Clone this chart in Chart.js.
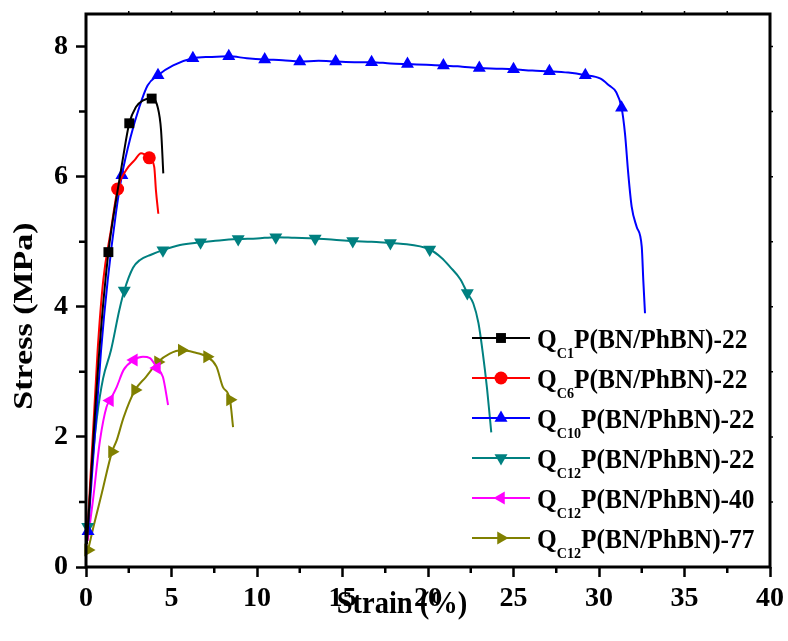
<!DOCTYPE html>
<html>
<head>
<meta charset="utf-8">
<script src="https://cdn.jsdelivr.net/npm/chart.js@4.4.0/dist/chart.umd.min.js"></script>
<style>
  html, body { margin: 0; padding: 0; background: #fff; }
  #wrap { width: 788px; height: 641px; position: relative; }
</style>
</head>
<body>
<div id="wrap"><canvas id="chart"></canvas></div>
<script>
// ── Data ──────────────────────────────────────────────────────
const strainQC1 = [0.05, 0.78, 1.31, 1.85, 2.14, 2.53, 2.92, 3.31, 3.84, 4.19, 4.39, 4.52];
const stressQC1 = [0.35, 3.33, 4.84, 5.79, 6.25, 6.82, 7.07, 7.17, 7.2, 7.07, 6.71, 6.05];
const marksQC1 = [2, 5, 8];

const strainQC6 = [0.05, 0.68, 1.01, 1.46, 1.85, 2.34, 2.83, 3.22, 3.7, 3.99, 4.09, 4.23];
const stressQC6 = [0.35, 3.33, 4.41, 5.18, 5.81, 6.1, 6.25, 6.36, 6.29, 6.15, 5.79, 5.43];
const marksQC6 = [4, 8];

const strainQC10 = [0.12, 0.88, 1.27, 1.75, 2.1, 2.6, 3.12, 3.6, 4.21, 5.1, 6.25, 7.3, 8.35, 9.4, 10.45,
  11.5, 12.5, 13.6, 14.6, 15.7, 16.7, 17.8, 18.8, 19.9, 20.9, 22.0, 23.0, 24.0, 25.0, 26.1, 27.1,
  28.2, 29.2, 30.06, 30.6, 31.0, 31.32, 31.52, 31.71, 31.91, 32.2, 32.5, 32.59, 32.69];
const stressQC10 = [0.55, 3.33, 4.41, 5.44, 6.02, 6.6, 7.07, 7.4, 7.56, 7.71, 7.82, 7.84, 7.85, 7.82, 7.8,
  7.79, 7.77, 7.78, 7.77, 7.76, 7.76, 7.74, 7.73, 7.72, 7.71, 7.69, 7.67, 7.66, 7.65, 7.63, 7.62,
  7.6, 7.56, 7.51, 7.4, 7.3, 7.06, 6.66, 6.05, 5.54, 5.23, 4.92, 4.41, 3.9];
const marksQC10 = [0, 4, 8, 10, 12, 14, 16, 18, 20, 22, 24, 26, 28, 30, 32, 36];

const strainQC12a = [0.1, 0.35, 0.64, 1.0, 1.46, 1.95, 2.24, 2.75, 3.16, 3.8, 4.5, 5.5, 6.7, 7.8, 8.9,
  10.0, 11.1, 12.2, 13.4, 14.5, 15.6, 16.7, 17.8, 18.4, 20.1, 20.8, 21.3, 21.9, 22.3, 22.65, 22.95, 23.2, 23.45, 23.7];
const stressQC12a = [0.62, 1.54, 2.3, 2.9, 3.33, 3.95, 4.25, 4.6, 4.72, 4.8, 4.87, 4.95, 4.99, 5.02, 5.04,
  5.05, 5.07, 5.06, 5.05, 5.03, 5.01, 5.0, 4.98, 4.97, 4.88, 4.75, 4.61, 4.42, 4.21, 4.05, 3.75, 3.3, 2.75, 2.07];
const marksQC12a = [0, 6, 10, 12, 14, 16, 18, 20, 22, 24, 28];

const strainQC12b = [0.1, 0.41, 0.82, 1.2, 1.4, 1.8, 2.2, 2.8, 3.33, 3.74, 4.15, 4.5, 4.8];
const stressQC12b = [0.4, 1.03, 1.95, 2.46, 2.56, 2.77, 3.03, 3.18, 3.23, 3.21, 3.06, 2.92, 2.49];
const marksQC12b = [4, 7, 10];

const strainQC12c = [0.12, 0.43, 0.93, 1.52, 1.8, 2.2, 2.87, 3.5, 4.21, 4.9, 5.6, 6.3, 7.08, 7.63, 8.0, 8.42, 8.6];
const stressQC12c = [0.26, 0.61, 1.14, 1.77, 1.95, 2.3, 2.72, 2.92, 3.15, 3.28, 3.33, 3.3, 3.23, 3.08, 2.77, 2.57, 2.15];
const marksQC12c = [0, 3, 6, 8, 10, 12, 15];

const labelSubs = ['C1', 'C6', 'C10', 'C12', 'C12', 'C12'];
const labelRests = ['P(BN/PhBN)-22', 'P(BN/PhBN)-22', 'P(BN/PhBN)-22', 'P(BN/PhBN)-22', 'P(BN/PhBN)-40', 'P(BN/PhBN)-77'];

const xTicks = [0, 5, 10, 15, 20, 25, 30, 35, 40];
const yTicks = [0, 2, 4, 6, 8];

// ── Styles ─────────────────────────────────────────────────────
const SERIF = "'Liberation Serif', 'Times New Roman', serif";
const STYLES = [
  { color: '#000000', style: 'rect', rot: 0, r: 7 },
  { color: '#ff0000', style: 'circle', rot: 0, r: 6.5 },
  { color: '#0000ff', style: 'triangle', rot: 0, r: 7.5 },
  { color: '#008080', style: 'triangle', rot: 180, r: 7.5 },
  { color: '#ff00ff', style: 'triangle', rot: 270, r: 7.5 },
  { color: '#808000', style: 'triangle', rot: 90, r: 7.5 },
];

const SERIES = [
  [strainQC1, stressQC1, marksQC1],
  [strainQC6, stressQC6, marksQC6],
  [strainQC10, stressQC10, marksQC10],
  [strainQC12a, stressQC12a, marksQC12a],
  [strainQC12b, stressQC12b, marksQC12b],
  [strainQC12c, stressQC12c, marksQC12c],
];

const datasets = SERIES.map(([xs, ys, marks], i) => ({
  label: 'Q' + labelSubs[i] + labelRests[i],
  data: xs.map((x, j) => ({ x: x, y: ys[j] })),
  showLine: true,
  borderColor: STYLES[i].color,
  backgroundColor: STYLES[i].color,
  borderWidth: 2,
  cubicInterpolationMode: 'monotone',
  pointStyle: STYLES[i].style,
  rotation: STYLES[i].rot,
  pointBorderWidth: 0,
  pointRadius: (ctx) => (marks.includes(ctx.dataIndex) ? STYLES[i].r : 0),
  pointHoverRadius: 0,
  clip: false,
}));

// ── Helpers ────────────────────────────────────────────────────
function drawText(ctx, text, x, y, size, sx) {
  ctx.save();
  ctx.translate(x, y);
  ctx.scale(sx, 1);
  ctx.font = 'bold ' + size + 'px ' + SERIF;
  ctx.textBaseline = 'alphabetic';
  ctx.fillText(text, 0, 0);
  const w = ctx.measureText(text).width * sx;
  ctx.restore();
  return w;
}

const framePlugin = {
  id: 'frame',
  afterDraw(chart) {
    const ctx = chart.ctx;
    const a = chart.chartArea;
    const xs = chart.scales.x;
    const ys = chart.scales.y;
    ctx.save();
    ctx.strokeStyle = '#000';
    ctx.lineWidth = 3;
    ctx.strokeRect(a.left, a.top, a.right - a.left, a.bottom - a.top);

    // minor ticks
    ctx.lineWidth = 2.5;
    ctx.beginPath();
    for (let v = 2.5; v < 40; v += 5) {
      const px = xs.getPixelForValue(v);
      ctx.moveTo(px, a.bottom);
      ctx.lineTo(px, a.bottom + 6);
    }
    for (let v = 1; v < 8.5; v += 2) {
      const py = ys.getPixelForValue(v);
      ctx.moveTo(a.left, py);
      ctx.lineTo(a.left - 7, py);
    }
    ctx.stroke();
    ctx.lineWidth = 1.5;
    ctx.beginPath();
    for (let v = 2.5; v < 40; v += 2.5) {
      const px = xs.getPixelForValue(v);
      ctx.moveTo(px, a.top);
      ctx.lineTo(px, a.top - 3);
    }
    for (let v = 1; v < 8.5; v += 1) {
      const py = ys.getPixelForValue(v);
      ctx.moveTo(a.right, py);
      ctx.lineTo(a.right + 3, py);
    }
    ctx.stroke();

    // axis titles
    ctx.fillStyle = '#000';
    ctx.textAlign = 'center';
    ctx.save();
    ctx.translate(402, 613);
    ctx.scale(0.92, 1);
    ctx.font = 'bold 31px ' + SERIF;
    ctx.fillText('Strain (%)', 0, 0);
    ctx.restore();

    ctx.save();
    ctx.translate(32, 316);
    ctx.rotate(-Math.PI / 2);
    ctx.scale(1, 0.8);
    ctx.font = 'bold 34px ' + SERIF;
    ctx.fillText('Stress (MPa)', 0, 0);
    ctx.restore();

    // legend
    ctx.textAlign = 'left';
    for (let i = 0; i < STYLES.length; i++) {
      const y = 338 + i * 40;
      const st = STYLES[i];
      ctx.strokeStyle = st.color;
      ctx.fillStyle = st.color;
      ctx.lineWidth = 2;
      ctx.beginPath();
      ctx.moveTo(472, y);
      ctx.lineTo(530, y);
      ctx.stroke();
      Chart.helpers.drawPoint(ctx, { pointStyle: st.style, rotation: st.rot, radius: st.r, borderWidth: 0 }, 501, y);
      ctx.fillStyle = '#000';
      let x = 537;
      x += drawText(ctx, 'Q', x, y + 10, 27, 0.94);
      x += drawText(ctx, labelSubs[i], x, y + 20, 15, 0.94);
      drawText(ctx, labelRests[i], x, y + 10, 27, 0.94);
    }
    ctx.restore();
  },
};

// ── Chart ──────────────────────────────────────────────────────
const tickFont = { family: SERIF, size: 28, weight: 'bold' };

new Chart(document.getElementById('chart'), {
  type: 'scatter',
  data: { datasets: datasets },
  options: {
    responsive: true,
    maintainAspectRatio: false,
    animation: false,
    events: [],
    layout: { padding: { top: 14, right: 18, left: 0, bottom: 0 } },
    plugins: { legend: { display: false }, tooltip: { enabled: false } },
    scales: {
      x: {
        type: 'linear',
        min: 0,
        max: 40,
        afterFit: (s) => { s.height = 74; s.paddingLeft = 0; s.paddingRight = 0; },
        afterBuildTicks: (s) => { s.ticks = xTicks.map((v) => ({ value: v })); },
        border: { display: false },
        grid: { drawOnChartArea: false, drawTicks: true, tickLength: 10, tickWidth: 2.5, tickColor: '#000' },
        ticks: { color: '#000', font: tickFont, padding: 5, maxRotation: 0 },
      },
      y: {
        type: 'linear',
        min: 0,
        max: 8.5,
        afterFit: (s) => { s.width = 86; s.paddingTop = 0; s.paddingBottom = 0; },
        afterBuildTicks: (s) => { s.ticks = yTicks.map((v) => ({ value: v })); },
        border: { display: false },
        grid: { drawOnChartArea: false, drawTicks: true, tickLength: 10, tickWidth: 2.5, tickColor: '#000' },
        ticks: { color: '#000', font: tickFont, padding: 8 },
      },
    },
  },
  plugins: [framePlugin],
});
</script>
</body>
</html>
